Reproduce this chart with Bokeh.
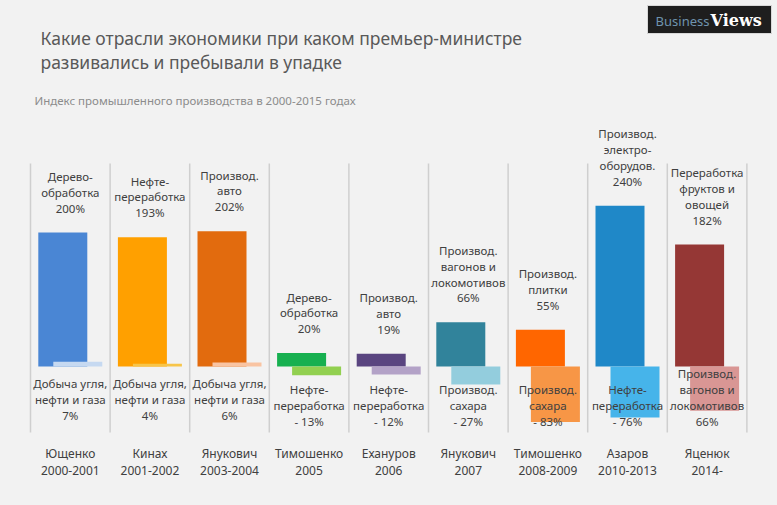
from bokeh.plotting import figure
from bokeh.models import Range1d, ColumnDataSource
from bokeh.core.properties import value
from bokeh.embed import file_html
from bokeh.resources import INLINE

# ---------------- data ----------------
premiers = ["Ющенко", "Кинах", "Янукович", "Тимошенко",
            "\u0415\u0445\u0430\u043d\u0443\u0440\u043e\u0432",
            "Янукович", "Тимошенко", "Азаров", "Яценюк"]
years = ["2000-2001", "2001-2002", "2003-2004", "2005", "2006",
         "2007", "2008-2009", "2010-2013", "2014-"]

growth_industry = ["Дерево-\nобработка", "Нефте-\nпереработка", "Производ.\nавто",
                   "Дерево-\nобработка", "Производ.\nавто",
                   "Производ.\nвагонов и\nлокомотивов", "Производ.\nплитки",
                   "Производ.\nэлектро-\nоборудов.", "Переработка\nфруктов и\nовощей"]
growth_values = [200, 193, 202, 20, 19, 66, 55, 240, 182]

decline_industry = ["Добыча угля,\nнефти и газа", "Добыча угля,\nнефти и газа",
                    "Добыча угля,\nнефти и газа", "Нефте-\nпереработка",
                    "Нефте-\nпереработка", "Производ.\nсахара", "Производ.\nсахара",
                    "Нефте-\nпереработка", "Производ.\nвагонов и\nлокомотивов"]
decline_values = [7, 4, 6, -13, -12, -27, -83, -76, -66]
decline_labels = ["7%", "4%", "6%", "- 13%", "- 12%", "- 27%", "- 83%", "- 76%", "66%"]

growth_colors = ["#4a86d4", "#ffa000", "#e26b0e", "#17b050", "#5a4580",
                 "#31839b", "#ff6600", "#1f88c8", "#953735"]
decline_colors = ["#c6d9f1", "#f7c54a", "#f9c4a2", "#92d050", "#b3a2c7",
                  "#93cddd", "#f79646", "#46b4ea", "#d99694"]

# ---------------- layout helpers (page pixels -> data) ----------------
COL0, COLW = 30.0, 79.6     # page x of first separator, column width
BASE, PXP = 366.0, 0.67     # page y of zero line, pixels per percent
W, H = 777, 505


def X(px):
    return (px - COL0) / COLW


def Y(py):
    return (BASE - py) / PXP


n = len(premiers)
idx = list(range(n))
centers = [i + 0.5 for i in idx]

p = figure(width=W, height=H, output_backend="svg", toolbar_location=None,
           x_range=Range1d(X(0), X(W)), y_range=Range1d(Y(H), Y(0)),
           x_axis_type=None, y_axis_type=None, min_border=0,
           background_fill_color="#f2f2f2", border_fill_color="#f2f2f2",
           outline_line_color=None)
p.grid.visible = False

# separators
p.segment(x0=list(range(n + 1)), x1=list(range(n + 1)),
          y0=[Y(163)] * (n + 1), y1=[Y(432)] * (n + 1),
          line_color="#cfcfcf", line_width=1.5)

off = 7.5 / COLW
bw = 49.0 / COLW

src = ColumnDataSource(dict(
    xg=[c - off for c in centers], xd=[c + off for c in centers], xc=centers,
    g=growth_values, d=decline_values, gc=growth_colors, dc=decline_colors,
    gl=[f"{ind}\n{v}%" for ind, v in zip(growth_industry, growth_values)],
    dl=[f"{ind}\n{lab}" for ind, lab in zip(decline_industry, decline_labels)],
    dy=[Y(422) if v >= 0 else Y(428) for v in decline_values],
    ny=[Y(461)] * n,
    names=[f"{a}\n{b}" for a, b in zip(premiers, years)],
))

p.vbar(x="xg", top="g", bottom=0, width=bw, fill_color="gc", line_color=None, source=src)
p.vbar(x="xd", top="d", bottom=0, width=bw, fill_color="dc", line_color=None, source=src)

font = value("Noto Sans")
p.text(x="xc", y="g", text="gl", source=src, text_font=font, text_font_size="11.5px",
       text_color="#404040", text_align="center", text_baseline="bottom",
       text_line_height=1.05, y_offset=-17)
p.text(x="xc", y="dy", text="dl", source=src, text_font=font, text_font_size="11.5px",
       text_color="#404040", text_align="center", text_baseline="bottom",
       text_line_height=1.05)
p.text(x="xc", y="ny", text="names", source=src, text_font=font,
       text_font_size="12px", text_color="#404040", text_align="center",
       text_baseline="middle", text_line_height=1.0)

# titles
p.text(x=[X(40)], y=[Y(37)], text=["Какие отрасли экономики при каком премьер-министре"],
       text_font=font, text_font_size="17.5px", text_color="#595959",
       text_baseline="middle")
p.text(x=[X(40)], y=[Y(61)], text=["развивались и пребывали в упадке"],
       text_font=font, text_font_size="17.5px", text_color="#595959",
       text_baseline="middle")
p.text(x=[X(34)], y=[Y(100)], text=["Индекс промышленного  производства  в 2000-2015 годах"],
       text_font=font, text_font_size="11.5px", text_color="#8c8c8c",
       text_baseline="middle")

# logo
p.quad(left=[X(647)], right=[X(771)], top=[Y(5)], bottom=[Y(33)],
       fill_color="#1e1e1e", line_color="#d8d8d8", line_width=1)
p.text(x=[X(709)], y=[Y(20)], text=["Business"], text_font=font,
       text_font_size="13px", text_color="#6f93ad", text_align="right",
       text_baseline="middle")
p.text(x=[X(710)], y=[Y(20)], text=["Views"], text_font=value("DejaVu Serif"),
       text_font_size="16px", text_font_style="bold", text_color="#ffffff",
       text_align="left", text_baseline="middle")

html = file_html(p, INLINE)
html = html.replace("</head>", "<style>html,body{background:#f2f2f2;}</style></head>", 1)
open("out.html", "w").write(html)
